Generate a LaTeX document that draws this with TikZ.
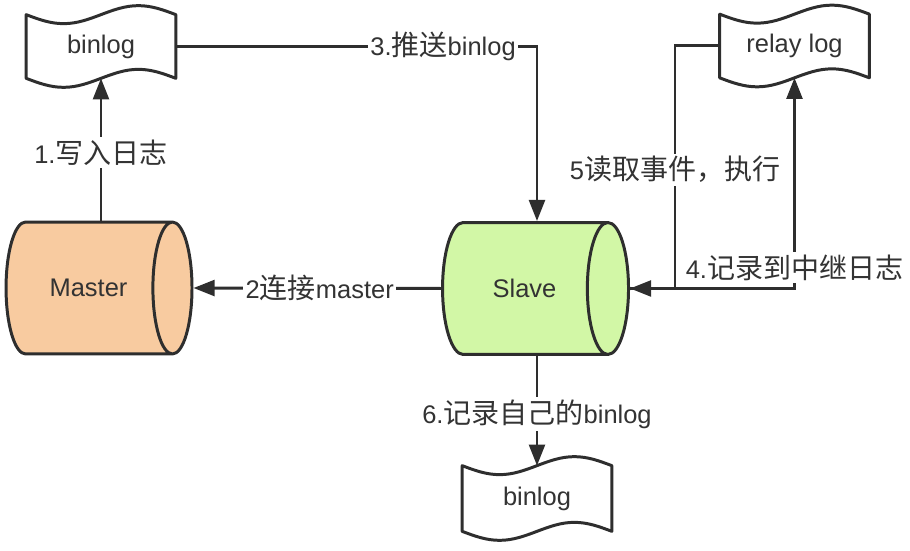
\documentclass[tikz,border=0pt]{standalone}
\usepackage{fontspec}
\setmainfont{Liberation Sans}
\newfontfamily\cjk{Noto Sans CJK SC}[Scale=1.1]
\usetikzlibrary{arrows.meta,shapes.geometric,calc}

\definecolor{linecolor}{HTML}{2E2E2E}
\definecolor{textcolor}{HTML}{333333}
\definecolor{masterfill}{HTML}{F8CBA0}
\definecolor{slavefill}{HTML}{D2F7A6}

\newcommand{\zh}[1]{{\cjk #1}}
\newlength{\tapeamp}\setlength{\tapeamp}{0.18cm}
% wavy outline round a log node
\newcommand{\tapeoutline}[1]{%
  \draw[tape line] (#1.north west)
    sin ($(#1.north west)!0.25!(#1.north east)-(0,\tapeamp)$)
    cos (#1.north)
    sin ($(#1.north west)!0.75!(#1.north east)+(0,\tapeamp)$)
    cos (#1.north east) -- (#1.south east)
    sin ($(#1.south west)!0.75!(#1.south east)+(0,\tapeamp)$)
    cos (#1.south)
    sin ($(#1.south west)!0.25!(#1.south east)-(0,\tapeamp)$)
    cos (#1.south west) -- cycle;}

\begin{document}
\begin{tikzpicture}
		[x=0.02cm,y=0.02cm,
		font=\fontsize{14.5pt}{17pt}\selectfont,
		%Styles
		flow/.style={draw=linecolor,line width=1.7pt,-{Triangle[length=12pt,width=9pt]}},
		plain flow/.style={draw=linecolor,line width=1.7pt},
		flowlabel/.style={fill=white,text=textcolor,inner sep=1.5pt},
		logbox/.style={minimum width=2.98cm,minimum height=1.26cm,inner sep=0pt,text=textcolor},
		tape line/.style={draw=linecolor,line width=1.7pt,line join=round},
		drum/.style={cylinder,draw=linecolor,line width=1.7pt,shape aspect=2.2,
			minimum width=2.64cm,minimum height=3.72cm,inner sep=0pt,text=textcolor}
		]
		\useasboundingbox (0,0) rectangle (910,551);
		
		%Servers
		\node[drum,fill=masterfill] (master) at (88.5,263) {Master};
		\node[drum,fill=slavefill] (slave) at (524.5,262.5) {Slave};
		
		%Logs
		\node[logbox] (binlogA) at (101,504.5) {binlog};
		\node[logbox] (relaylog) at (794.5,505) {relay log};
		\node[logbox,minimum height=1.3cm] (binlogB) at (537,52.5) {binlog};
		\tapeoutline{binlogA}
		\tapeoutline{relaylog}
		\tapeoutline{binlogB}
		
		\coordinate (read) at (675,262.5);
		
		%The graphic
		\draw[flow] (binlogA.south |- master.north) -- node[flowlabel,pos=0.48] {1.\zh{写入日志}} (binlogA.south);
		\draw[flow] (slave.west) -- node[flowlabel,pos=0.49] {2\zh{连接}master} (master.east);
		\draw[flow] (binlogA.east) -| node[flowlabel,pos=0.37] {3.\zh{推送}binlog} (binlogB.north |- slave.north);
		\draw[flow] (slave.east) -| node[flowlabel,pos=0.55] {4.\zh{记录到中继日志}} (relaylog.south);
		\draw[plain flow] (relaylog.west) -| node[flowlabel,pos=0.755] {5\zh{读取事件，执行}} (read);
		\draw[flow] (read) -- (slave.east);
		\draw[flow] (binlogB.north |- slave.south) -- node[flowlabel,pos=0.53] {6.\zh{记录自己的}binlog} (binlogB.north);
	\end{tikzpicture}
\end{document}
